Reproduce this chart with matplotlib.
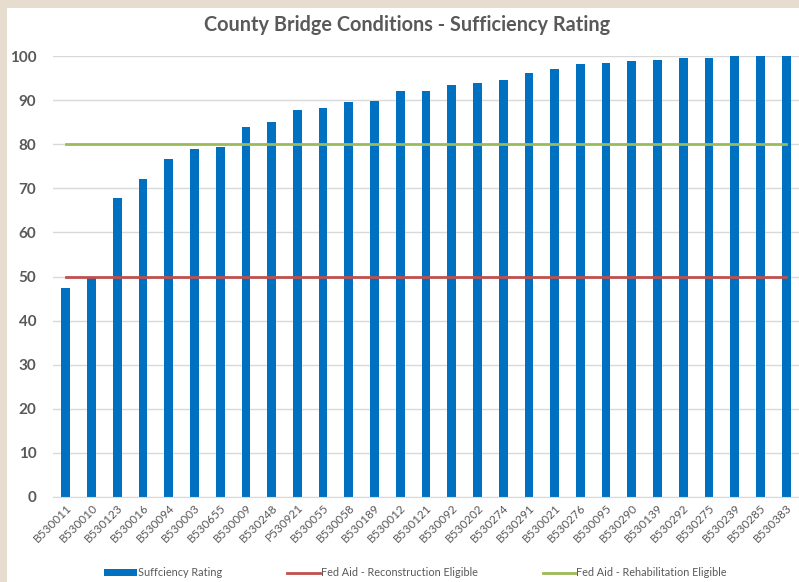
import matplotlib
matplotlib.use("Agg")
import matplotlib.pyplot as plt
from matplotlib.patches import Rectangle
import numpy as np

# Bridge IDs, sorted by rating
bridges = ["B530011", "B530010", "B530123", "B530016", "B530094", "B530003",
           "B530655", "B530009", "B530248", "P530921", "B530055", "B530058",
           "B530189", "B530012", "B530121", "B530092", "B530202", "B530274",
           "B530291", "B530021", "B530276", "B530095", "B530290", "B530139",
           "B530292", "B530275", "B530239", "B530285", "B530383"]

# Sufficiency rating per bridge
rating = [47.3, 49.7, 67.8, 72.2, 76.7, 79.0, 79.4, 84.0, 85.0, 87.7,
          88.2, 89.6, 89.9, 92.0, 92.1, 93.5, 93.8, 94.6, 96.1, 97.1,
          98.2, 98.5, 98.8, 99.0, 99.6, 99.6, 99.9, 100.0, 100.0]

# Fed aid thresholds
reconstruction = 50
rehabilitation = 80

grey = "#595959"
plt.rcParams["font.family"] = ["Lato", "DejaVu Sans"]

fig = plt.figure(figsize=(7.99, 5.82), dpi=100, facecolor="#E6DDCF")
# white chart panel over the beige background
fig.patches.append(Rectangle((7 / 799, 0), 1, 1 - 8 / 582, transform=fig.transFigure,
                             facecolor="white", edgecolor="none", zorder=-10))

ax = fig.add_axes([53 / 799, 1 - 497 / 582, 1 - 53 / 799, (497 - 56) / 582])
ax.set_facecolor("white")

x = np.arange(len(bridges))
b = ax.bar(x, rating, width=0.34, color="#0070C0", zorder=2, clip_on=False)
l1, = ax.plot(x, [reconstruction] * len(x), color="#C0504D", lw=2, zorder=3)
l2, = ax.plot(x, [rehabilitation] * len(x), color="#9BBB59", lw=2, zorder=3)

ax.set_xlim(-0.5, len(bridges) - 0.5)
ax.set_ylim(0, 100)
ax.set_yticks(range(0, 101, 10))
ax.grid(axis="y", color="#D9D9D9", lw=1, zorder=0)
for s in ["top", "right", "left"]:
    ax.spines[s].set_visible(False)
ax.spines["bottom"].set_color("#D9D9D9")
ax.tick_params(axis="both", length=0, colors=grey)
ax.tick_params(axis="y", labelsize=11, pad=12)
for t in ax.get_yticklabels():
    t.set_fontweight("bold")
ax.set_xticks(x)
ax.set_xticklabels(bridges, rotation=45, ha="right", rotation_mode="anchor", fontsize=8.5)

fig.text(0.51, 1 - 25 / 582, "County Bridge Conditions - Sufficiency Rating",
         ha="center", va="center", fontsize=14.3, fontweight="bold", color=grey)

leg = fig.legend([b, l1, l2],
                 ["Suffciency Rating", "Fed Aid - Reconstruction Eligible",
                  "Fed Aid - Rehabilitation Eligible"],
                 loc="center", bbox_to_anchor=(0.52, 1 - 573 / 582), ncol=3,
                 frameon=False, fontsize=7.8, columnspacing=6, handlelength=3,
                 handletextpad=0.1, handleheight=0.6)
for t in leg.get_texts():
    t.set_color(grey)

fig.savefig("out.png", dpi=100, facecolor=fig.get_facecolor())
